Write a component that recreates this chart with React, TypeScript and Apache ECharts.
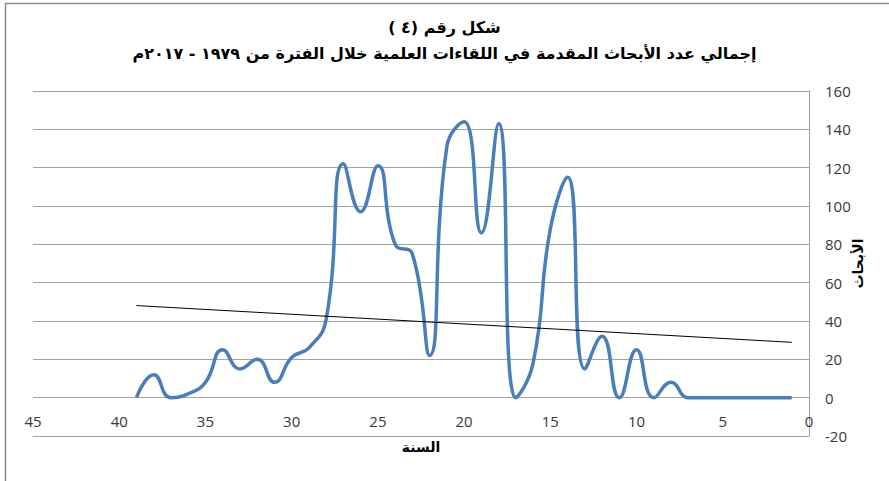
import React, { useEffect, useRef } from "react";
import * as echarts from "echarts";

const RLM = "\u200F";
const titleLine1 = "شكل رقم (٤ )";
const titleLine2 = "إجمالي عدد الأبحاث المقدمة في اللقاءات العلمية خلال الفترة من ١٩٧٩ - ٢٠١٧م";
const xAxisName = "السنة";
const yAxisName = "الأبحاث";

// x positions (السنة) and values (الأبحاث)
const xValues = [39, 38, 37, 36, 35, 34, 33, 32, 31, 30, 29, 28, 27, 26, 25, 24, 23, 22, 21, 20, 19, 18, 17, 16, 15, 14, 13, 12, 11, 10, 9, 8, 7, 6, 5, 4, 3, 2, 1];
const counts = [0, 12, 0, 2, 8, 25, 15, 20, 8, 21, 26, 41, 122, 97, 121, 80, 75, 22, 131, 144, 86, 143, 0, 18, 88, 115, 15, 32, 0, 25, 0, 8, 0, 0, 0, 0, 0, 0, 0];

const xTicks = { min: 0, max: 45, interval: 5 };
const yTicks = { min: -20, max: 160, interval: 20 };

function linearTrend(xs: number[], ys: number[]) {
  const n = xs.length;
  const mx = xs.reduce((a, b) => a + b, 0) / n;
  const my = ys.reduce((a, b) => a + b, 0) / n;
  let sxy = 0;
  let sxx = 0;
  for (let i = 0; i < n; i++) {
    sxy += (xs[i] - mx) * (ys[i] - my);
    sxx += (xs[i] - mx) * (xs[i] - mx);
  }
  const b = sxy / sxx;
  const a = my - b * mx;
  const x0 = Math.max(...xs);
  const x1 = Math.min(...xs);
  return [
    [x0, a + b * x0],
    [x1, a + b * x1],
  ];
}

export default function App() {
  const ref = useRef<HTMLDivElement>(null);
  useEffect(() => {
    if (!ref.current) return;
    const chart = echarts.init(ref.current, undefined, { renderer: "svg" });
    const gridColor = "#a3a3a3";
    const labelFont = "Open Sans";
    const arabicFont = "DejaVu Sans";
    chart.setOption({
      animation: false,
      backgroundColor: "#ffffff",
      title: [
        {
          text: RLM + titleLine1 + RLM,
          left: "center",
          top: 14,
          textStyle: { fontFamily: arabicFont, fontWeight: "bold", fontSize: 16, color: "#000" },
        },
        {
          text: RLM + titleLine2 + RLM,
          left: "center",
          top: 40,
          textStyle: { fontFamily: arabicFont, fontWeight: "bold", fontSize: 16, color: "#000" },
        },
      ],
      graphic: [
        {
          type: "rect",
          shape: { x: 5.5, y: 3.5, width: 920, height: 520 },
          style: { fill: "none", stroke: "#8a8a8a", lineWidth: 1.5 },
          silent: true,
        },
      ],
      grid: { left: 33, right: 80, top: 91, bottom: 45, containLabel: false, outerBoundsMode: "none" },
      xAxis: {
        type: "value",
        inverse: true,
        min: xTicks.min,
        max: xTicks.max,
        interval: xTicks.interval,
        name: RLM + xAxisName + RLM,
        nameLocation: "middle",
        nameGap: 4,
        nameMoveOverlap: false,
        nameTextStyle: { fontFamily: arabicFont, fontWeight: "bold", fontSize: 14, color: "#000", verticalAlign: "top" },
        axisLine: { show: true, onZero: false, lineStyle: { color: gridColor, width: 1 } },
        axisTick: { show: false },
        splitLine: { show: false },
        axisLabel: { inside: true, fontFamily: labelFont, fontSize: 15, color: "#383838", margin: 8 },
      },
      yAxis: {
        type: "value",
        position: "right",
        min: yTicks.min,
        max: yTicks.max,
        interval: yTicks.interval,
        name: RLM + yAxisName + RLM,
        nameLocation: "middle",
        nameGap: 42,
        nameRotate: 90,
        nameMoveOverlap: false,
        nameTextStyle: { fontFamily: arabicFont, fontWeight: "bold", fontSize: 14, color: "#000" },
        axisLine: { show: true, onZero: false, lineStyle: { color: gridColor, width: 1 } },
        axisTick: { show: false },
        splitLine: { show: true, lineStyle: { color: gridColor, width: 1 } },
        axisLabel: { fontFamily: labelFont, fontSize: 15, color: "#383838", margin: 16 },
      },
      series: [
        {
          type: "line",
          data: xValues.map((x, i) => [x, counts[i]]),
          smooth: 0.5,
          showSymbol: false,
          lineStyle: { color: "#4a7ebb", width: 3.5 },
          itemStyle: { color: "#4a7ebb" },
          z: 2,
        },
        {
          type: "line",
          data: linearTrend(xValues, counts),
          showSymbol: false,
          lineStyle: { color: "#000", width: 1 },
          itemStyle: { color: "#000" },
          z: 3,
        },
      ],
    });
    return () => chart.dispose();
  }, []);
  return (
    <div
      ref={ref}
      style={{ position: "fixed", left: 0, top: 0, width: 889, height: 481, background: "#fff" }}
    />
  );
}
